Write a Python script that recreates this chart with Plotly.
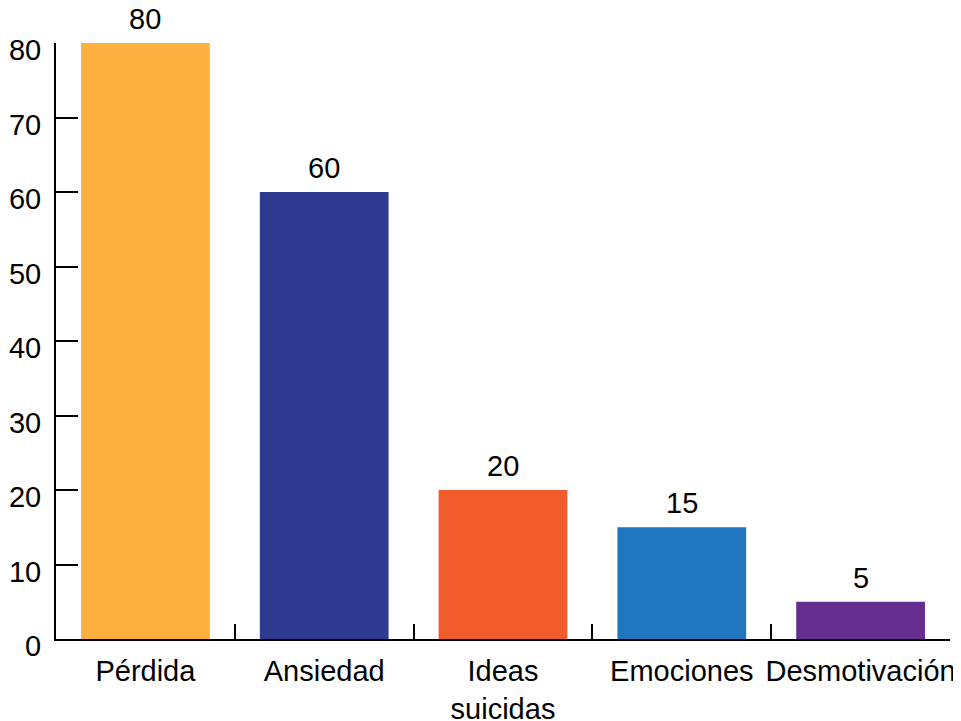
import plotly.graph_objects as go

categories = ["Pérdida", "Ansiedad", "Ideas<br>suicidas", "Emociones", "Desmotivación"]
values = [80, 60, 20, 15, 5]
colors = ["#FBB040", "#2E3A8F", "#F15A2B", "#1F75BE", "#662D91"]
y_ticks = [0, 10, 20, 30, 40, 50, 60, 70, 80]

FONT = "Liberation Sans, Arial, sans-serif"
FS = 29

fig = go.Figure()
fig.add_trace(go.Bar(
    x=categories, y=values, marker=dict(color=colors, line=dict(width=0)),
    width=0.72, showlegend=False, hoverinfo="skip", cliponaxis=False,
))
for c, v in zip(categories, values):
    fig.add_annotation(x=c, y=v, text=str(v), showarrow=False, yanchor="bottom",
                       yshift=6, font=dict(family=FONT, size=FS, color="#000000"))

fig.update_layout(
    width=961, height=721,
    margin=dict(l=48, r=19, t=35, b=90, autoexpand=False),
    paper_bgcolor="white", plot_bgcolor="white",
    font=dict(family=FONT, size=FS, color="#000000"),
    xaxis=dict(
        showgrid=False, zeroline=False, showline=True, linecolor="#000000", linewidth=2,
        ticks="inside", tickson="boundaries", ticklen=15, tickwidth=2, tickcolor="#000000",
        range=[-0.5, 4.5], tickangle=0, automargin=False, ticklabelstandoff=5,
        tickfont=dict(family=FONT, size=FS, color="#000000"),
    ),
    yaxis=dict(
        range=[0, 80], tickvals=y_ticks, showgrid=False, zeroline=False,
        showline=True, linecolor="#000000", linewidth=2,
        ticks="inside", ticklen=22, tickwidth=2, tickcolor="#000000",
        tickfont=dict(family=FONT, size=FS, color="#000000"),
        ticklabelshift=7, ticklabelstandoff=7, automargin=False,
    ),
    bargap=0.28,
)

fig.write_html("out.html")
